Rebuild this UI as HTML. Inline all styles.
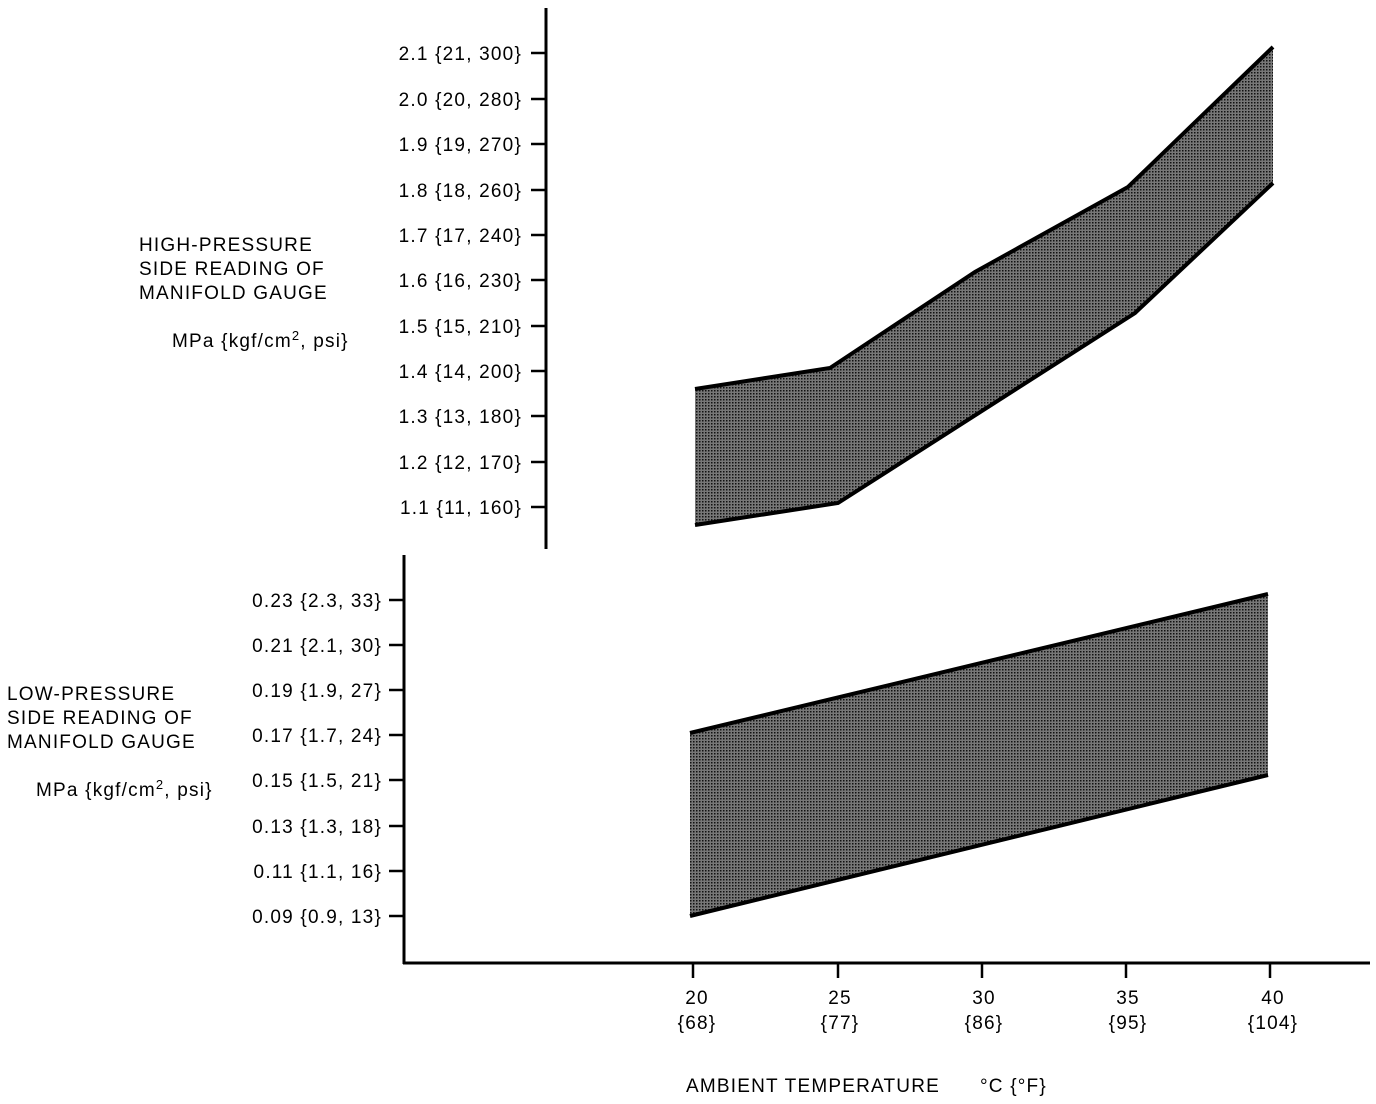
<!DOCTYPE html>
<html><head><meta charset="utf-8"><style>
html,body{margin:0;padding:0;background:#fff;}
svg{display:block;}
text{font-family:"Liberation Sans",sans-serif;font-size:19px;letter-spacing:1.2px;fill:#000;}
</style></head><body>
<svg width="1376" height="1104" viewBox="0 0 1376 1104" xmlns="http://www.w3.org/2000/svg">
<defs>
<pattern id="dots" width="3" height="3" patternUnits="userSpaceOnUse">
<rect width="3" height="3" fill="#777"/>
<rect width="1.5" height="1.5" fill="#111"/>
</pattern>
</defs>
<g stroke="#000" stroke-width="3" fill="none">
<line x1="546" y1="8" x2="546" y2="549"/>
<line x1="404" y1="555" x2="404" y2="964"/>
<line x1="403" y1="963" x2="1370" y2="963"/>
</g>
<g stroke="#000" stroke-width="2.5">
<line x1="531" y1="53" x2="546" y2="53"/>
<line x1="531" y1="99" x2="546" y2="99"/>
<line x1="531" y1="144" x2="546" y2="144"/>
<line x1="531" y1="190" x2="546" y2="190"/>
<line x1="531" y1="235" x2="546" y2="235"/>
<line x1="531" y1="280" x2="546" y2="280"/>
<line x1="531" y1="326" x2="546" y2="326"/>
<line x1="531" y1="371" x2="546" y2="371"/>
<line x1="531" y1="416" x2="546" y2="416"/>
<line x1="531" y1="462" x2="546" y2="462"/>
<line x1="531" y1="507" x2="546" y2="507"/>
<line x1="389" y1="600" x2="404" y2="600"/>
<line x1="389" y1="645" x2="404" y2="645"/>
<line x1="389" y1="690" x2="404" y2="690"/>
<line x1="389" y1="735" x2="404" y2="735"/>
<line x1="389" y1="780" x2="404" y2="780"/>
<line x1="389" y1="826" x2="404" y2="826"/>
<line x1="389" y1="871" x2="404" y2="871"/>
<line x1="389" y1="916" x2="404" y2="916"/>
<line x1="693" y1="963" x2="693" y2="978"/>
<line x1="838" y1="963" x2="838" y2="978"/>
<line x1="982" y1="963" x2="982" y2="978"/>
<line x1="1126" y1="963" x2="1126" y2="978"/>
<line x1="1270" y1="963" x2="1270" y2="978"/>
</g>
<polygon points="695,389 830,368 975,272 1128,187 1273,47 1273,183 1135,313 838,503 695,525" fill="url(#dots)" stroke="none"/>
<polyline points="695,389 830,368 975,272 1128,187 1273,47" fill="none" stroke="#000" stroke-width="4"/>
<polyline points="695,525 838,503 1135,313 1273,183" fill="none" stroke="#000" stroke-width="4"/>
<polygon points="690,733 1268,594 1268,775 690,916" fill="url(#dots)" stroke="none"/>
<line x1="690" y1="733" x2="1268" y2="594" stroke="#000" stroke-width="4"/>
<line x1="690" y1="916" x2="1268" y2="775" stroke="#000" stroke-width="4"/>
<g text-anchor="end">
<text x="522" y="60">2.1 {21, 300}</text>
<text x="522" y="106">2.0 {20, 280}</text>
<text x="522" y="151">1.9 {19, 270}</text>
<text x="522" y="197">1.8 {18, 260}</text>
<text x="522" y="242">1.7 {17, 240}</text>
<text x="522" y="287">1.6 {16, 230}</text>
<text x="522" y="333">1.5 {15, 210}</text>
<text x="522" y="378">1.4 {14, 200}</text>
<text x="522" y="423">1.3 {13, 180}</text>
<text x="522" y="469">1.2 {12, 170}</text>
<text x="522" y="514">1.1 {11, 160}</text>
<text x="382" y="607">0.23 {2.3, 33}</text>
<text x="382" y="652">0.21 {2.1, 30}</text>
<text x="382" y="697">0.19 {1.9, 27}</text>
<text x="382" y="742">0.17 {1.7, 24}</text>
<text x="382" y="787">0.15 {1.5, 21}</text>
<text x="382" y="833">0.13 {1.3, 18}</text>
<text x="382" y="878">0.11 {1.1, 16}</text>
<text x="382" y="923">0.09 {0.9, 13}</text>
</g>
<g text-anchor="middle">
<text x="697" y="1004">20</text><text x="697" y="1029">{68}</text>
<text x="840" y="1004">25</text><text x="840" y="1029">{77}</text>
<text x="984" y="1004">30</text><text x="984" y="1029">{86}</text>
<text x="1128" y="1004">35</text><text x="1128" y="1029">{95}</text>
<text x="1273" y="1004">40</text><text x="1273" y="1029">{104}</text>
</g>
<text x="139" y="251">HIGH-PRESSURE</text>
<text x="139" y="275">SIDE READING OF</text>
<text x="139" y="299">MANIFOLD GAUGE</text>
<text x="172" y="347">MPa {kgf/cm<tspan font-size="13" dy="-7">2</tspan><tspan dy="7">, psi}</tspan></text>
<text x="7" y="700">LOW-PRESSURE</text>
<text x="7" y="724">SIDE READING OF</text>
<text x="7" y="748">MANIFOLD GAUGE</text>
<text x="36" y="796">MPa {kgf/cm<tspan font-size="13" dy="-7">2</tspan><tspan dy="7">, psi}</tspan></text>
<text x="686" y="1092">AMBIENT TEMPERATURE</text>
<text x="980" y="1092">°C {°F}</text>
</svg>
</body></html>
